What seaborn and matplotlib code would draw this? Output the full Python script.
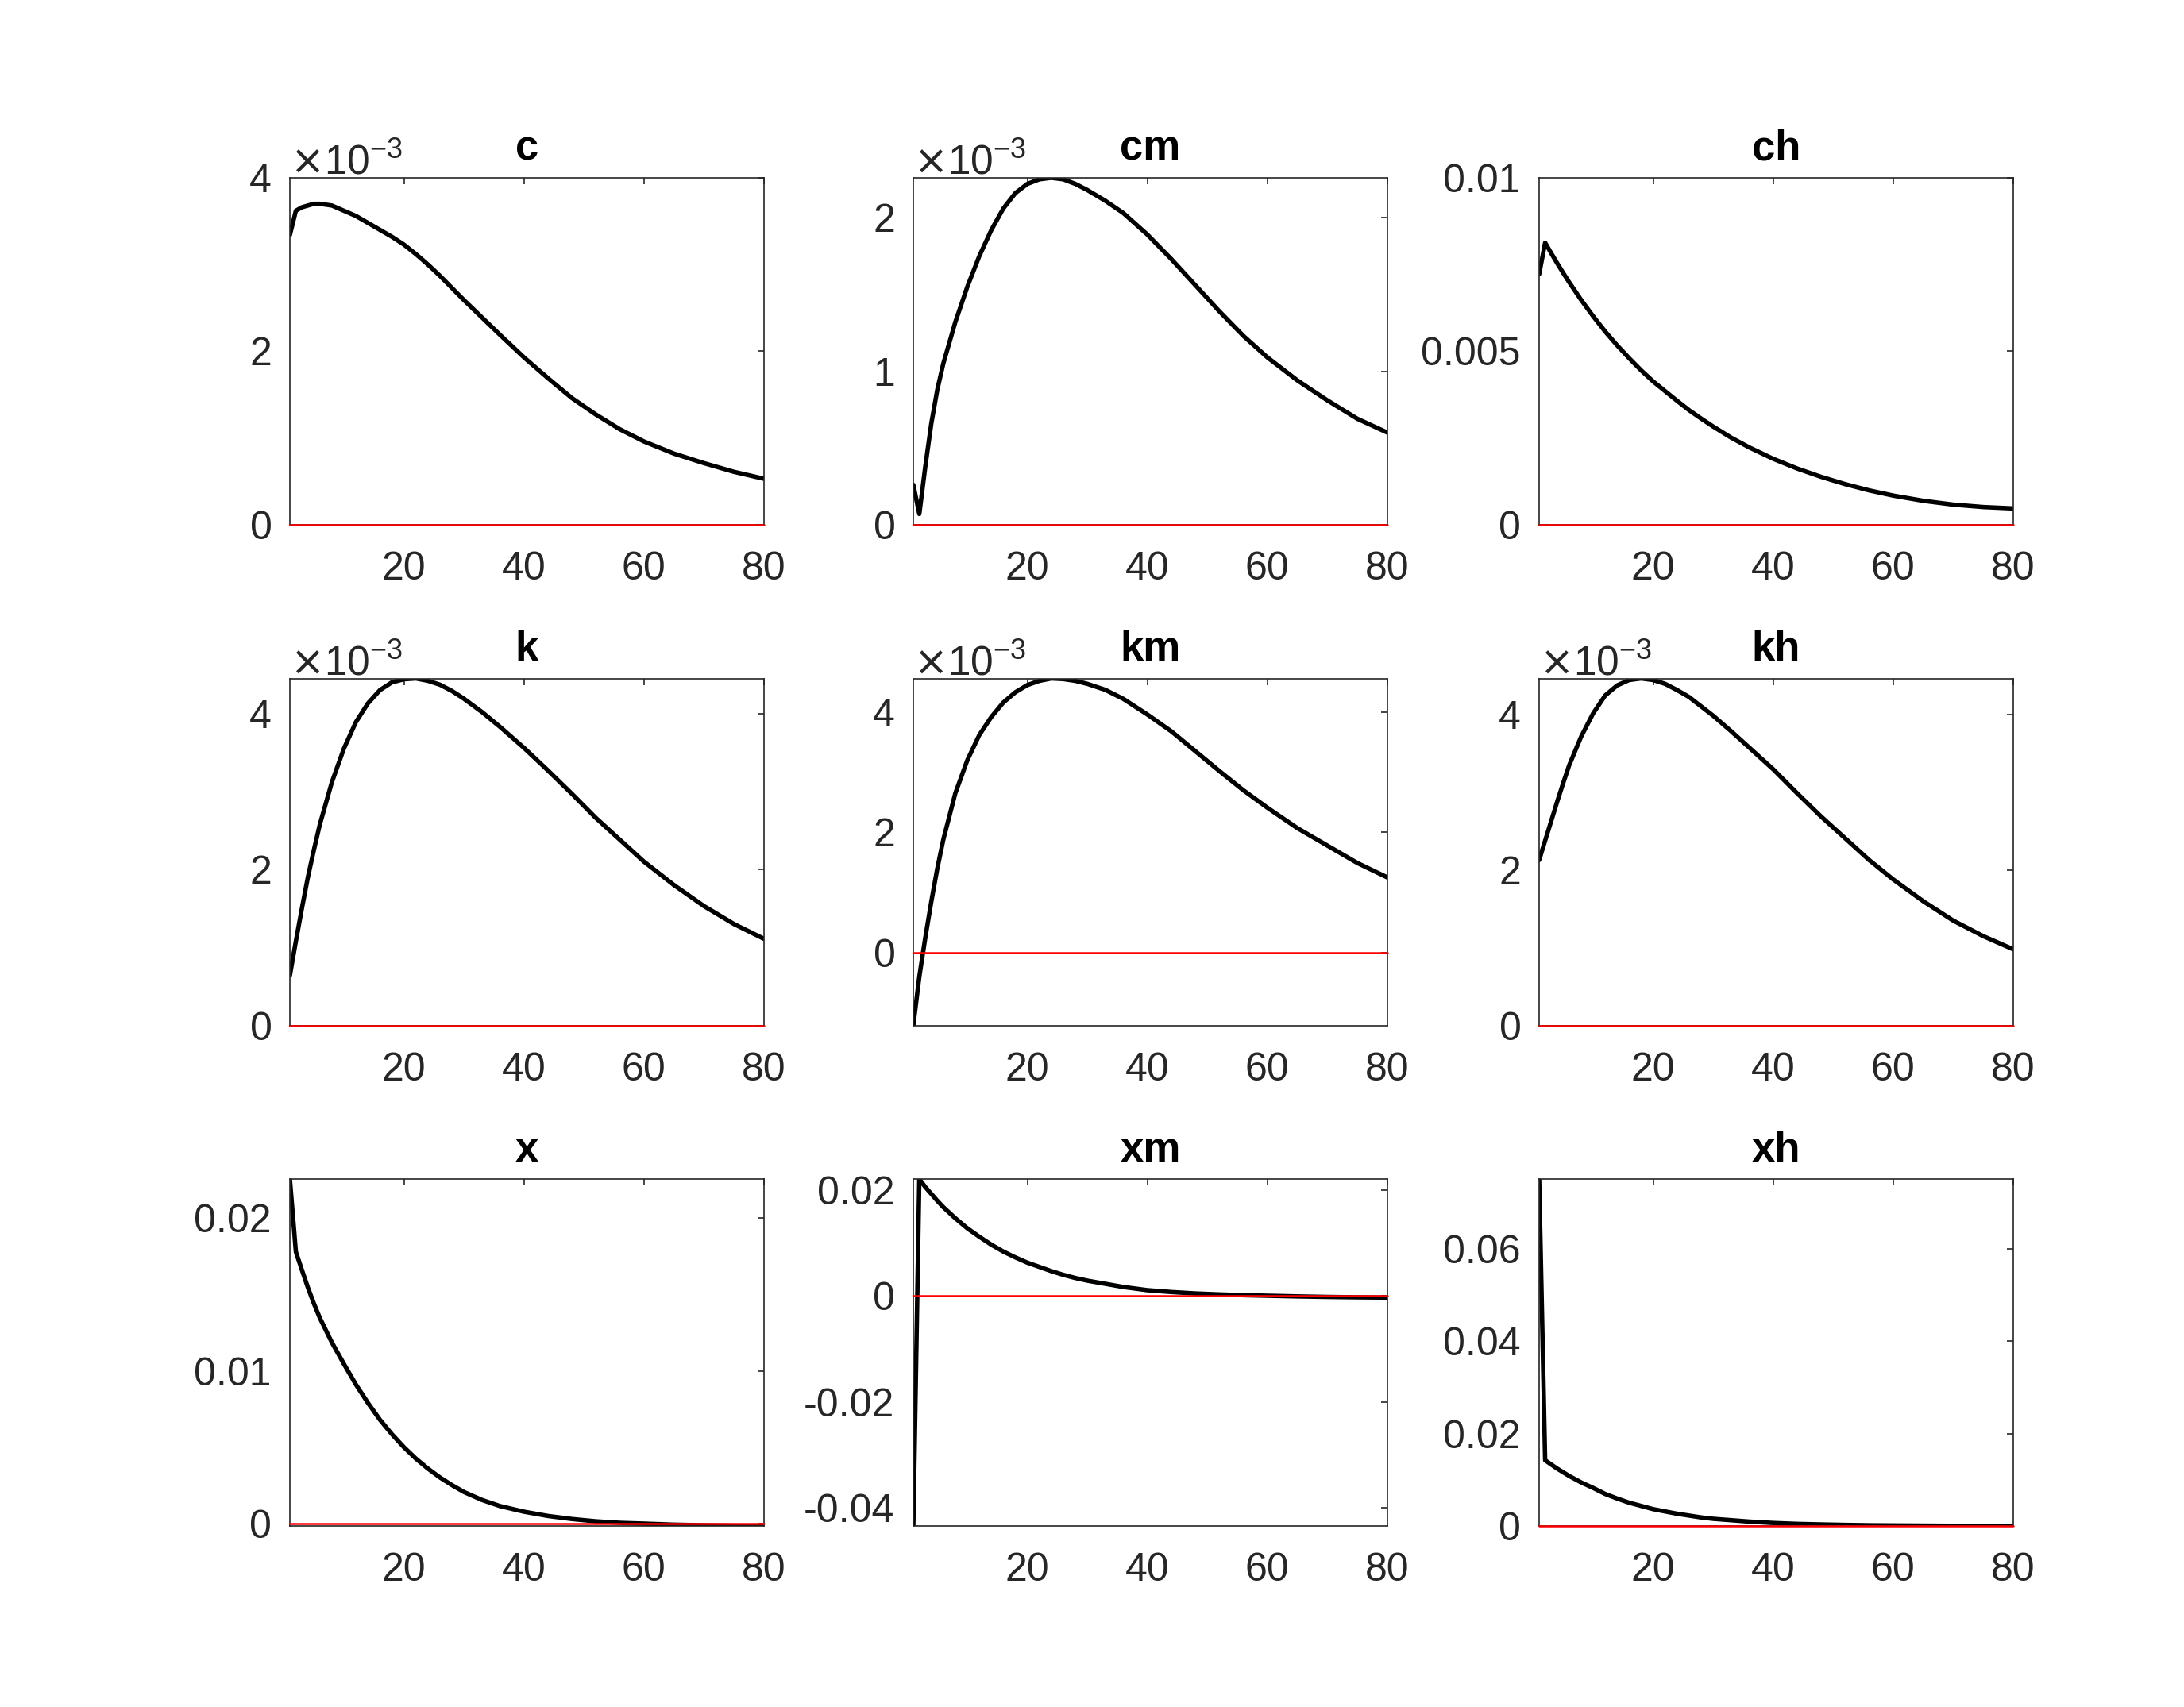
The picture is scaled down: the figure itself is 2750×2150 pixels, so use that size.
import numpy as np
import pandas as pd
import matplotlib
matplotlib.use('Agg')
import matplotlib.pyplot as plt
import seaborn as sns
from matplotlib.ticker import FuncFormatter, ScalarFormatter

periods = [1, 2, 3, 4, 5, 6, 8, 10, 12, 14, 16, 18, 20, 22, 24, 26, 28, 30,
           33, 36, 40, 44, 48, 52, 56, 60, 65, 70, 75, 80]

# impulse responses, small ones given in units of 1e-3
c_irf = np.array([3.34, 3.62, 3.66, 3.68, 3.70, 3.70, 3.68, 3.62, 3.56, 3.48, 3.40, 3.32, 3.23, 3.12, 3.00,
                  2.87, 2.73, 2.59, 2.39, 2.19, 1.93, 1.69, 1.46, 1.27, 1.10, 0.96, 0.82, 0.71, 0.61, 0.53]) * 1e-3
cm_irf = np.array([0.26, 0.07, 0.38, 0.66, 0.88, 1.05, 1.32, 1.55, 1.75, 1.92, 2.06, 2.16, 2.22, 2.25, 2.26,
                   2.25, 2.22, 2.18, 2.11, 2.03, 1.89, 1.73, 1.56, 1.39, 1.23, 1.09, 0.94, 0.81, 0.69, 0.60]) * 1e-3
ch_irf = np.array([7.22, 8.13, 7.83, 7.54, 7.26, 6.99, 6.48, 6.01, 5.57, 5.17, 4.80, 4.45, 4.13, 3.85, 3.57,
                   3.30, 3.06, 2.83, 2.51, 2.23, 1.90, 1.62, 1.38, 1.17, 0.99, 0.84, 0.69, 0.58, 0.51, 0.47]) * 1e-3
k_irf = np.array([0.64, 1.08, 1.50, 1.90, 2.25, 2.58, 3.12, 3.55, 3.89, 4.13, 4.30, 4.40, 4.44, 4.45, 4.42,
                  4.37, 4.29, 4.19, 4.02, 3.83, 3.56, 3.27, 2.97, 2.66, 2.38, 2.10, 1.80, 1.53, 1.30, 1.11]) * 1e-3
km_irf = np.array([-1.21, -0.40, 0.25, 0.85, 1.40, 1.88, 2.65, 3.20, 3.62, 3.92, 4.16, 4.33, 4.45, 4.52, 4.56,
                   4.55, 4.52, 4.47, 4.37, 4.22, 3.96, 3.68, 3.35, 3.02, 2.70, 2.41, 2.07, 1.78, 1.49, 1.25]) * 1e-3
kh_irf = np.array([2.13, 2.38, 2.63, 2.88, 3.12, 3.35, 3.72, 4.02, 4.25, 4.38, 4.45, 4.47, 4.45, 4.40, 4.32,
                   4.23, 4.11, 3.99, 3.79, 3.58, 3.30, 2.99, 2.69, 2.41, 2.13, 1.88, 1.60, 1.35, 1.15, 0.98]) * 1e-3
x_irf = np.array([22.54, 17.78, 16.60, 15.45, 14.40, 13.45, 11.85, 10.45, 9.10, 7.90, 6.80, 5.85, 5.00, 4.25,
                  3.60, 3.02, 2.52, 2.07, 1.55, 1.15, 0.78, 0.50, 0.30, 0.15, 0.05, 0.0, -0.07, -0.11,
                  -0.14, -0.16]) * 1e-3
xm_irf = np.array([-43.5, 22.1, 20.6, 19.3, 18.0, 16.8, 14.7, 12.8, 11.2, 9.7, 8.4, 7.3, 6.3, 5.5, 4.7,
                   4.0, 3.4, 2.9, 2.3, 1.7, 1.1, 0.75, 0.48, 0.3, 0.15, 0.05, -0.08, -0.18, -0.25, -0.3]) * 1e-3
xh_irf = np.array([75.2, 14.2, 13.3, 12.4, 11.6, 10.8, 9.4, 8.2, 6.9, 5.9, 5.0, 4.3, 3.6, 3.1, 2.6,
                   2.2, 1.8, 1.5, 1.2, 0.9, 0.6, 0.4, 0.28, 0.18, 0.10, 0.06, 0.02, -0.02, -0.05, -0.07]) * 1e-3

titles = ['c', 'cm', 'ch', 'k', 'km', 'kh', 'x', 'xm', 'xh']
series = [c_irf, cm_irf, ch_irf, k_irf, km_irf, kh_irf, x_irf, xm_irf, xh_irf]
y_ticks = [[0, 0.002, 0.004], [0, 0.001, 0.002], [0, 0.005, 0.01],
           [0, 0.002, 0.004], [0, 0.002, 0.004], [0, 0.002, 0.004],
           [0, 0.01, 0.02], [-0.04, -0.02, 0, 0.02], [0, 0.02, 0.04, 0.06]]
sci_panels = ['c', 'cm', 'k', 'km', 'kh']
# panels whose y range is not tight to the data
y_top = {'c': 0.004, 'ch': 0.01}
x_ticks = [20, 40, 60, 80]

sns.set_theme(style='white')
plt.rcParams['font.family'] = ['Liberation Sans', 'DejaVu Sans']

dark = (0.15, 0.15, 0.15)
fig = plt.figure(figsize=(27.5, 21.5), dpi=100)

lefts = [365 / 2750, 1150 / 2750, 1938 / 2750]
bottoms = [0.6926, 0.3993, 0.1060]
w, h = 597 / 2750, 437 / 2150

for i, (name, vals) in enumerate(zip(titles, series)):
    ax = fig.add_axes([lefts[i % 3], bottoms[i // 3], w, h])
    df = pd.DataFrame({'t': periods, 'v': vals})
    sns.lineplot(data=df, x='t', y='v', ax=ax, color='black', linewidth=4.0)
    # zero reference line, kept visible when it sits on the bottom spine
    ax.axhline(0, color='red', linewidth=1.8, clip_on=False, zorder=3)

    lo = min(0, vals.min())
    hi = y_top.get(name, vals.max())
    ax.set_xlim(periods[0], periods[-1])
    ax.set_ylim(lo, hi)
    ax.set_xticks(x_ticks)
    ax.set_yticks(y_ticks[i])

    if name in sci_panels:
        fmt = ScalarFormatter(useMathText=True)
        fmt.set_powerlimits((0, 0))
        ax.yaxis.set_major_formatter(fmt)
    else:
        ax.yaxis.set_major_formatter(FuncFormatter(lambda v, p: f'{v:g}'))
    ax.yaxis.offsetText.set_fontsize(37)
    ax.yaxis.offsetText.set_color(dark)

    ax.set_xlabel('')
    ax.set_ylabel('')
    ax.set_title(name, fontsize=38, fontweight='bold', y=1.0, pad=16, color='black')
    ax.tick_params(axis='both', direction='in', top=True, right=True, length=6,
                   width=1.2, colors=dark, labelsize=36)
    ax.tick_params(axis='x', pad=24)
    ax.tick_params(axis='y', pad=17)
    for sp in ax.spines.values():
        sp.set_color(dark)
        sp.set_linewidth(1.2)
    ax.grid(False)

fig.savefig('out.png', dpi=100, facecolor='white')
